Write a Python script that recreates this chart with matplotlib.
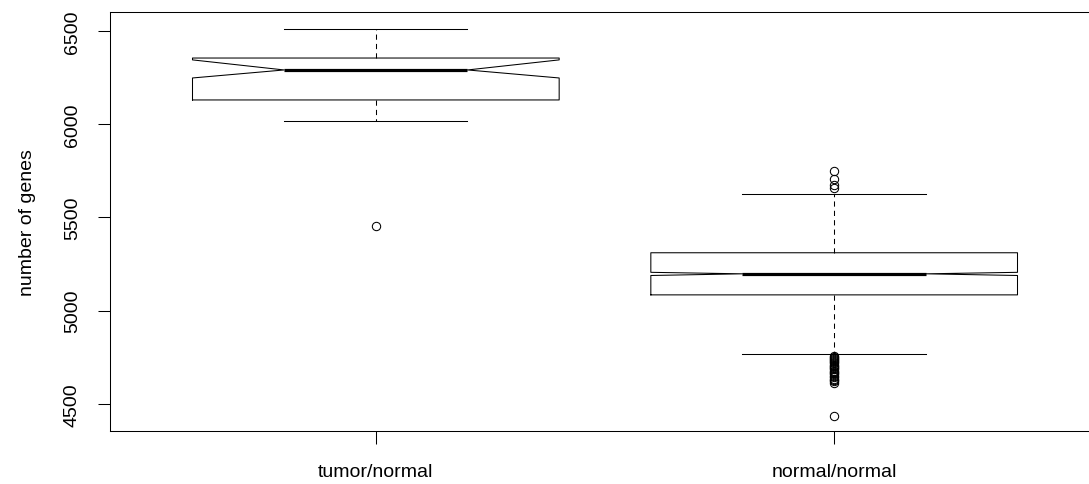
import matplotlib
matplotlib.use("Agg")
import matplotlib.pyplot as plt

# group labels and box statistics
groups = ["tumor/normal", "normal/normal"]
medians = [6291, 5197]
q1 = [6130, 5084]
q3 = [6355, 5310]
whisker_low = [6017, 4768]
whisker_high = [6511, 5626]
notch_low = [6248, 5188]
notch_high = [6345, 5205]
outliers_tumor = [5454]
outliers_normal = [5750, 5705, 5672, 5660,
                   4757, 4752, 4746, 4740, 4734, 4728, 4722, 4716, 4710,
                   4703, 4697, 4690, 4684, 4678, 4671, 4665, 4658, 4650,
                   4642, 4635, 4627, 4620, 4612, 4436]

plt.rcParams['font.family'] = ['Liberation Sans', 'DejaVu Sans']

stats = []
for i, name in enumerate(groups):
    stats.append(dict(
        label=name,
        med=medians[i], q1=q1[i], q3=q3[i],
        whislo=whisker_low[i], whishi=whisker_high[i],
        cilo=notch_low[i], cihi=notch_high[i],
        fliers=[outliers_tumor, outliers_normal][i],
    ))

fig = plt.figure(figsize=(10.89, 4.85), dpi=100)
# right edge of the R plot frame lies just outside the picture
ax = fig.add_axes([110 / 1089, 53 / 485, 990 / 1089, 419 / 485])

lw = 0.75
ax.bxp(stats, positions=[1, 2], widths=0.8, shownotches=True,
       boxprops=dict(color='black', linewidth=lw),
       whiskerprops=dict(color='black', linewidth=lw, linestyle=(0, (5, 4))),
       capprops=dict(color='black', linewidth=lw),
       medianprops=dict(color='black', linewidth=2.3, solid_capstyle='butt'),
       flierprops=dict(marker='o', markerfacecolor='none', markeredgecolor='black',
                       markersize=6, markeredgewidth=0.75))

ax.set_xlim(0.42, 2.58)
ax.set_ylim(4353.5, 6602)
ax.set_yticks([4500, 5000, 5500, 6000, 6500])
ax.set_yticklabels(['4500', '5000', '5500', '6000', '6500'],
                   rotation=90, va='center')
ax.set_xticks([1, 2])
ax.set_xticklabels(groups)
ax.tick_params(axis='both', length=9, width=lw, labelsize=14, color='black')
ax.tick_params(axis='y', pad=12)
ax.tick_params(axis='x', pad=14)
ax.set_ylabel('number of genes', fontsize=14, labelpad=20)
for s in ax.spines.values():
    s.set_linewidth(lw)

fig.savefig('out.png', dpi=100)
